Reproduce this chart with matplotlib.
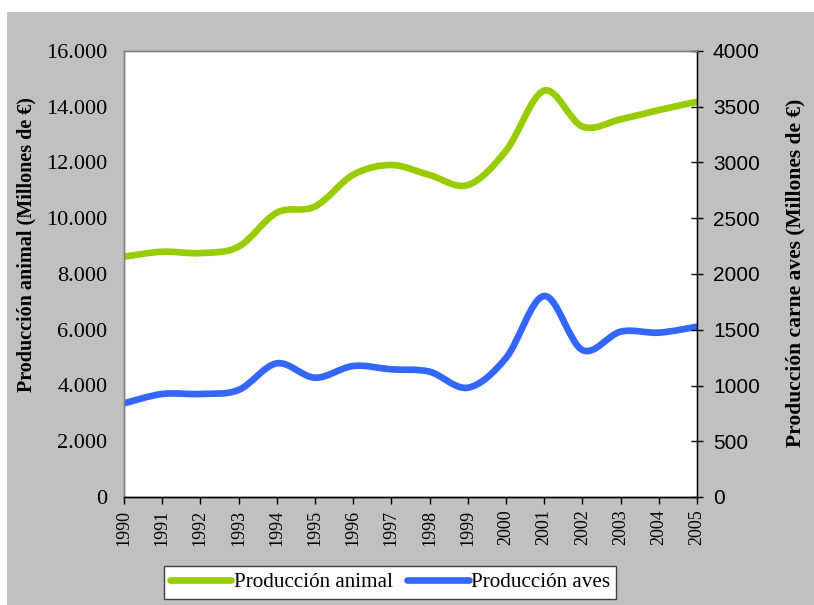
import matplotlib
matplotlib.use("Agg")
import matplotlib.pyplot as plt
from matplotlib.path import Path
from matplotlib.patches import PathPatch, Rectangle
from matplotlib.lines import Line2D
from matplotlib.ticker import FuncFormatter
import numpy as np

years = [1990, 1991, 1992, 1993, 1994, 1995, 1996, 1997, 1998, 1999,
         2000, 2001, 2002, 2003, 2004, 2005]
produccion_animal = [8620, 8800, 8750, 8980, 10200, 10420, 11560, 11910,
                     11550, 11190, 12420, 14580, 13290, 13550, 13880, 14180]
produccion_aves = [840, 924, 924, 960, 1199, 1070, 1175, 1145,
                   1124, 980, 1247, 1803, 1318, 1483, 1474, 1527]

left_ticks = [0, 2000, 4000, 6000, 8000, 10000, 12000, 14000, 16000]
right_ticks = [0, 500, 1000, 1500, 2000, 2500, 3000, 3500, 4000]

GREEN = "#99CC00"
BLUE = "#3366FF"
SERIF = ["Liberation Serif", "DejaVu Serif"]
SANS = ["Liberation Sans", "DejaVu Sans"]


def smooth_path(x, y):
    x = np.asarray(x, float)
    y = np.asarray(y, float)
    n = len(x)
    verts = [(x[0], y[0])]
    codes = [Path.MOVETO]
    for i in range(n - 1):
        p0 = np.array([x[max(i - 1, 0)], y[max(i - 1, 0)]])
        p1 = np.array([x[i], y[i]])
        p2 = np.array([x[i + 1], y[i + 1]])
        p3 = np.array([x[min(i + 2, n - 1)], y[min(i + 2, n - 1)]])
        c1 = p1 + (p2 - p0) / 6.0
        c2 = p2 - (p3 - p1) / 6.0
        verts += [tuple(c1), tuple(c2), tuple(p2)]
        codes += [Path.CURVE4] * 3
    return Path(verts, codes)


fig = plt.figure(figsize=(8.14, 6.05), dpi=100)
fig.patch.set_facecolor("white")
fig.patches.append(Rectangle((7 / 814, 0), 1 - 7 / 814, 1 - 12 / 605,
                             transform=fig.transFigure, facecolor="#c0c0c0",
                             edgecolor="none", zorder=-10))

ax = fig.add_axes([124 / 814, 108 / 605, 573 / 814, 446 / 605])
ax.set_facecolor("white")
ax2 = ax.twinx()

ax.set_xlim(years[0], years[-1])
ax.set_ylim(left_ticks[0], left_ticks[-1])
ax2.set_ylim(right_ticks[0], right_ticks[-1])

ax.add_patch(PathPatch(smooth_path(years, produccion_animal), fill=False,
                       edgecolor=GREEN, linewidth=4.8, capstyle="round",
                       joinstyle="round"))
ax2.add_patch(PathPatch(smooth_path(years, produccion_aves), fill=False,
                        edgecolor=BLUE, linewidth=4.8, capstyle="round",
                        joinstyle="round"))

ax.set_xticks(years)
ax.set_xticklabels([str(y) for y in years], rotation=90, family=SERIF,
                   fontsize=13)
ax.set_yticks(left_ticks)
ax.yaxis.set_major_formatter(FuncFormatter(
    lambda v, p: "0" if v == 0 else f"{int(v):,}".replace(",", ".")))
for lab in ax.get_yticklabels():
    lab.set_family(SERIF)
    lab.set_fontsize(16)
ax.tick_params(axis="y", length=0, pad=12)
ax.tick_params(axis="x", direction="out", length=5, width=1, pad=4)

ax2.set_yticks(right_ticks)
ax2.set_yticklabels([str(v) for v in right_ticks], family=SANS, fontsize=15)
ax2.tick_params(axis="y", direction="inout", length=9, width=1, pad=7)

for a in (ax, ax2):
    for s in a.spines.values():
        s.set_color("#808080")
        s.set_linewidth(1)
ax2.spines["right"].set_color("black")
ax.spines["bottom"].set_color("black")
ax2.spines["bottom"].set_color("black")

ax.set_ylabel("Producción animal (Millones de €)", family=SERIF,
              fontsize=14.5, fontweight="bold")
ax.yaxis.set_label_coords(-88 / 573, (497 - 245) / 446)
ax2.set_ylabel("Producción carne aves (Millones de €)", family=SERIF,
               fontsize=15.5, fontweight="bold", rotation=90)
ax2.yaxis.set_label_coords(1 + 88 / 573, (497 - 273) / 446)

handles = [Line2D([], [], color=GREEN, linewidth=4.8, solid_capstyle="round"),
           Line2D([], [], color=BLUE, linewidth=4.8, solid_capstyle="round")]
leg = fig.legend(handles, ["Producción animal", "Producción aves"],
                 loc="center", bbox_to_anchor=(390 / 814, 22.5 / 605),
                 ncol=2, frameon=True, fancybox=False, framealpha=1,
                 edgecolor="#404040", facecolor="white",
                 prop={"family": SERIF, "size": 15.2},
                 handlelength=2.9, handletextpad=0.1, columnspacing=0.7,
                 borderpad=0.3, borderaxespad=0)
leg.get_frame().set_linewidth(1)

fig.savefig("out.png", dpi=100, facecolor=fig.get_facecolor())
